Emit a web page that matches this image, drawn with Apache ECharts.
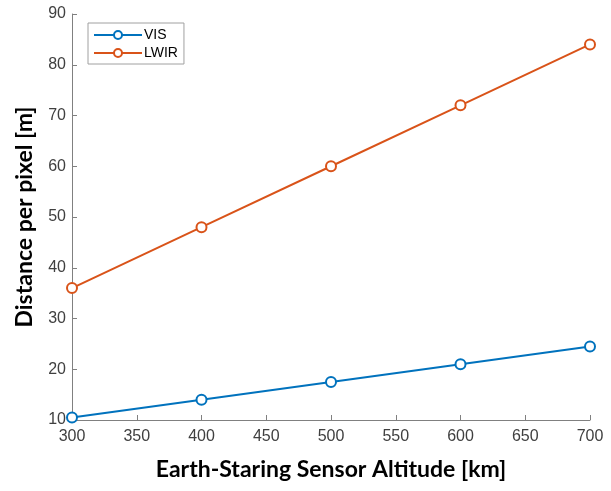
<!DOCTYPE html>
<html><head><meta charset="utf-8">
<script src="https://cdn.jsdelivr.net/npm/echarts@6/dist/echarts.min.js"></script>
<style>html,body{margin:0;padding:0;background:#fff}#c{width:611px;height:491px}</style>
</head><body><div id="c"></div>
<script>
const altitudes = [300, 400, 500, 600, 700];
const visValues = [10.5, 14, 17.5, 21, 24.5];
const lwirValues = [36, 48, 60, 72, 84];
const xTitle = 'Earth-Staring Sensor Altitude [km]';
const yTitle = 'Distance per pixel [m]';

const chart = echarts.init(document.getElementById('c'));
const axisCol = '#808080';
const labelCol = '#404040';
function mk(name, vals, color) {
  return {
    name, type: 'line', data: altitudes.map((a, i) => [a, vals[i]]),
    symbol: 'circle', symbolSize: 10, showSymbol: true,
    lineStyle: { color, width: 2 },
    itemStyle: { color: '#fff', borderColor: color, borderWidth: 2 },
    color, animation: false
  };
}
chart.setOption({
  backgroundColor: '#fff',
  animation: false,
  grid: { left: 72, right: 21, top: 14, bottom: 71, containLabel: false },
  legend: {
    left: 88, top: 23, orient: 'vertical',
    backgroundColor: '#fff', borderColor: '#a0a0a0', borderWidth: 1,
    padding: [5, 6, 4, 5], itemGap: 4, itemWidth: 48, itemHeight: 10,
    textStyle: { fontFamily: 'Liberation Sans', fontSize: 14, color: '#000', padding: [0,0,0,-3] },
    data: ['VIS', 'LWIR']
  },
  xAxis: {
    type: 'value', min: 300, max: 700, interval: 50,
    name: xTitle, nameLocation: 'middle', nameGap: 38,
    nameTextStyle: { fontFamily: 'Lato', fontWeight: 'bold', fontSize: 23, color: '#000' },
    axisLine: { show: true, lineStyle: { color: axisCol, width: 1 } },
    axisTick: { show: true, inside: true, length: 5, lineStyle: { color: axisCol } },
    axisLabel: { fontFamily: 'Liberation Sans', fontSize: 16, color: labelCol, margin: 9 },
    splitLine: { show: false }
  },
  yAxis: {
    type: 'value', min: 10, max: 90, interval: 10,
    name: yTitle, nameLocation: 'middle', nameGap: 36, nameRotate: 90,
    nameTextStyle: { fontFamily: 'Lato', fontWeight: 'bold', fontSize: 23, color: '#000' },
    axisLine: { show: true, lineStyle: { color: axisCol, width: 1 } },
    axisTick: { show: true, inside: true, length: 5, lineStyle: { color: axisCol } },
    axisLabel: { fontFamily: 'Liberation Sans', fontSize: 16, color: labelCol, margin: 6 },
    splitLine: { show: false }
  },
  series: [ mk('VIS', visValues, '#0072BD'), mk('LWIR', lwirValues, '#D95319') ]
});
</script></body></html>
